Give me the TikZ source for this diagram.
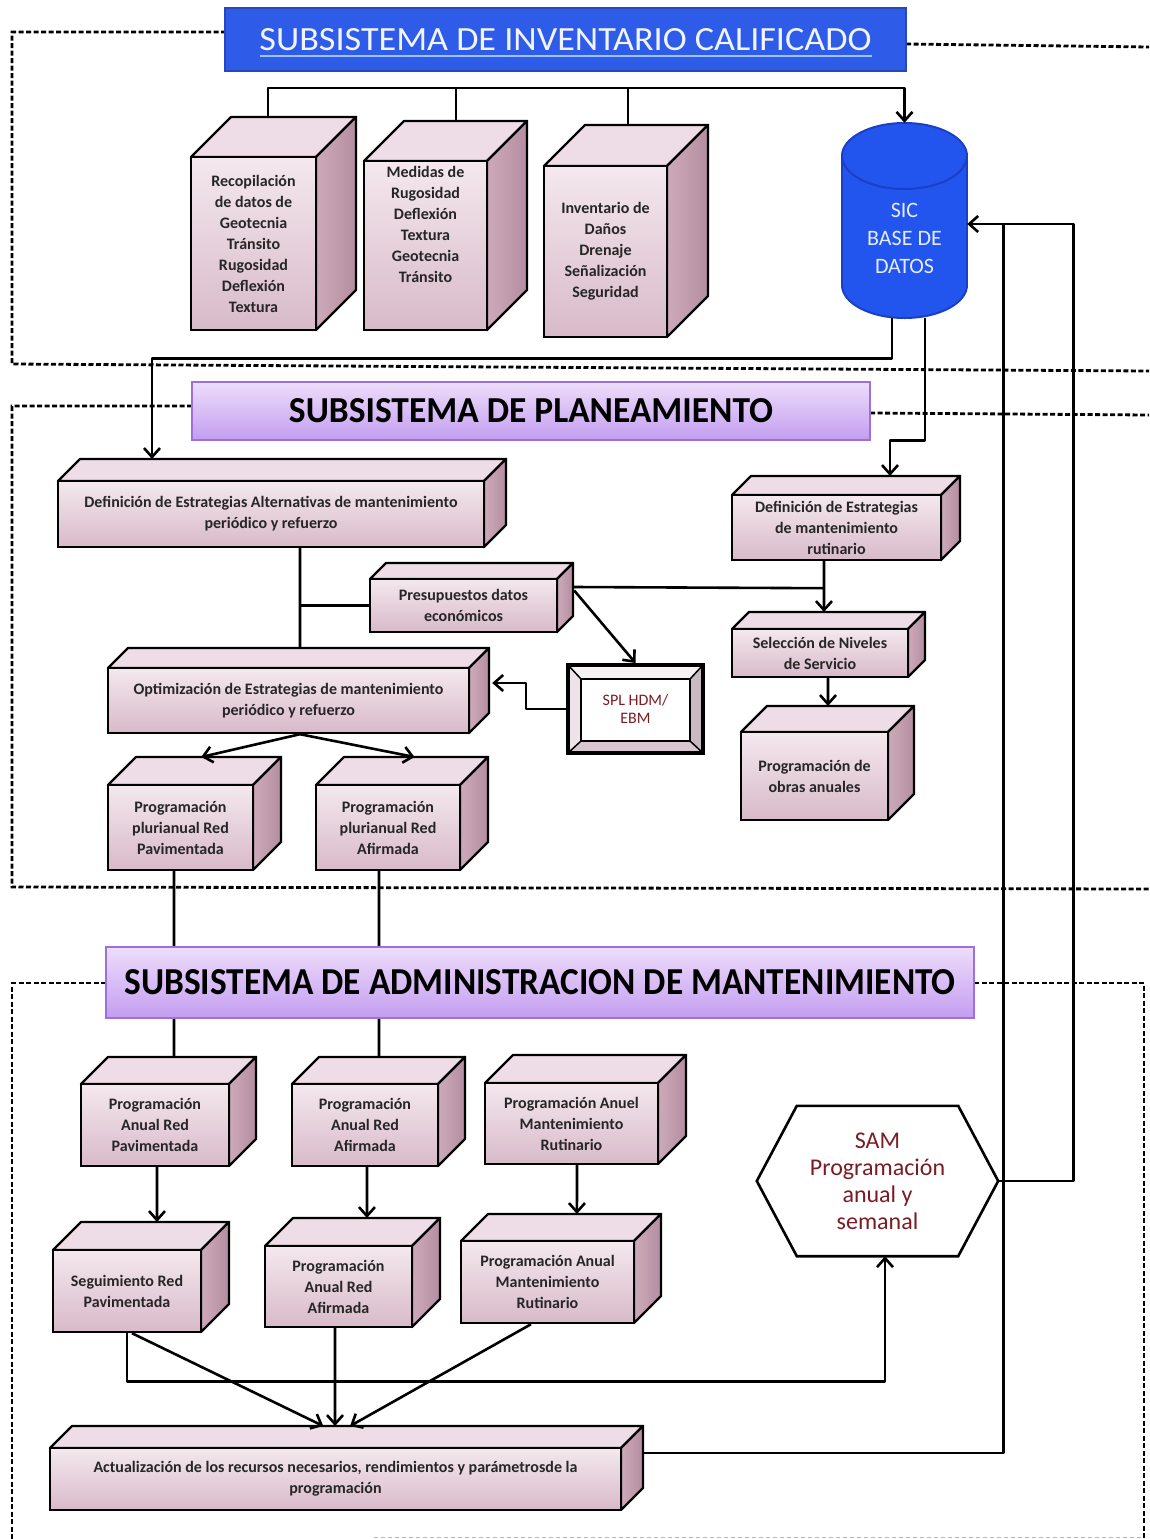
\documentclass[tikz,border=0pt]{standalone}
\usepackage{fontspec}
\usepackage{graphicx}
\setmainfont{Carlito}
\usetikzlibrary{arrows.meta,calc}
\definecolor{cfT}{HTML}{F4E8EE}
\definecolor{cfB}{HTML}{D8BAC8}
\definecolor{cubetopc}{HTML}{EEDDE6}
\definecolor{sideL}{HTML}{CDAABA}
\definecolor{sideR}{HTML}{B48EA0}
\definecolor{txtc}{HTML}{262626}
\definecolor{sicblue}{HTML}{2255EE}
\definecolor{sicedge}{HTML}{1A40C8}
\definecolor{sictext}{HTML}{E4EBFF}
\definecolor{invblue}{HTML}{2E5BE8}
\definecolor{invtext}{HTML}{F0F4FF}
\definecolor{ulblue}{HTML}{9DC3FF}
\definecolor{samred}{HTML}{7A1C24}
\definecolor{planT}{HTML}{EEDDFB}
\definecolor{planB}{HTML}{C39DF0}
\definecolor{planE}{HTML}{9F6FDD}
\definecolor{bevT}{HTML}{F6F2F4}
\definecolor{bevL}{HTML}{ECE4E8}
\definecolor{bevR}{HTML}{C9B9C1}
\definecolor{bevB}{HTML}{D9C6CF}
\tikzset{
  frame/.style={line width=2.8pt, dash pattern=on 5pt off 2.5pt, black},
  conn/.style={line width=2.6pt, black, line join=round},
  arr/.style={conn, -{Straight Barb[length=9pt,width=16pt]}},
  cubeface/.style={draw=black, line width=2.4pt, top color=cfT, bottom color=cfB,
    inner sep=0pt, align=center, font=\fontsize{16}{21}\selectfont\bfseries, text=txtc},
  cubeedge/.style={draw=black, line width=2.4pt, line join=round},
  banner/.style={inner sep=0pt, line width=1.2pt}
}
% name, x1, y1, x2, y2, depth, text
\newcommand{\cubebox}[7]{%
  \path[cubeedge, fill=cubetopc] (#2,#3) -- ++(#6,-#6) -- ({#4+#6},{#3-#6}) -- (#4,#3) -- cycle;
  \path[cubeedge, left color=sideL, right color=sideR] (#4,#3) -- ({#4+#6},{#3-#6}) -- ({#4+#6},{#5-#6}) -- (#4,#5) -- cycle;
  \coordinate (#1-tl) at ({#2+#6},{#3-#6});
  \coordinate (#1-tr) at ({#4+#6},{#3-#6});
  \node[cubeface, minimum width={(#4-#2)*1pt}, minimum height={(#5-#3)*1pt}] (#1) at ({(#2+#4)/2},{(#3+#5)/2}) {#7};
}
\begin{document}
\begin{tikzpicture}[x=1pt,y=-1pt]
\useasboundingbox (0,0) rectangle (1149,1539);
\fill[white] (0,0) rectangle (1149,1539);

% dashed subsystem frames
\draw[frame] (226,32) -- (12,32) -- (12,364) -- (1149,371);
\draw[frame] (906,44) -- (1149,47);
\draw[frame] (192,406) -- (12,406) -- (12,887) -- (1149,889);
\draw[frame] (870,413) -- (1149,415);
\draw[frame] (106,983) -- (12,983) -- (12,1539);
\draw[frame] (974,983) -- (1144,983) -- (1144,1539);
\draw[gray!55, line width=1pt, dash pattern=on 4pt off 3pt] (374,1537) -- (1144,1537);

% banners
\node[banner, fill=invblue, draw=invblue!80!black, minimum width=681pt, minimum height=63pt] (inv) at (565.5,39.5)
  {\color{invtext}\resizebox{612pt}{22pt}{SUBSISTEMA DE INVENTARIO CALIFICADO}};
\draw[ulblue, line width=2.5pt] ([xshift=-306pt,yshift=-16.5pt]inv.center) -- ([xshift=306pt,yshift=-16.5pt]inv.center);
\node[banner, top color=planT, bottom color=planB, draw=planE, minimum width=678pt, minimum height=58pt] (plan) at (531,411)
  {\resizebox{484pt}{24pt}{\bfseries SUBSISTEMA DE PLANEAMIENTO}};

% SIC cylinder
\fill[sicblue] (842,156) rectangle (967,285);
\path[fill=sicblue, draw=sicedge, line width=2pt] (904.5,285) ellipse [x radius=62.5, y radius=33];
\fill[sicblue] (843,156) rectangle (966,285);
\draw[sicedge, line width=2pt] (842,156) -- (842,285) (967,156) -- (967,285);
\path[fill=sicblue, draw=sicedge, line width=2pt] (904.5,156) ellipse [x radius=62.5, y radius=33];
\node[minimum width=125pt, minimum height=195pt, inner sep=0pt] (sic) at (904.5,220.5) {};
\node[font=\fontsize{22}{28}\selectfont, text=sictext, align=center] (sictxt) at ([yshift=-17.5pt]sic.center) {SIC\\BASE DE\\DATOS};

% inventory boxes
\cubebox{invA}{191}{157}{316}{330}{40}{Recopilación\\de datos de\\Geotecnia\\Tránsito\\Rugosidad\\Deflexión\\Textura}
\cubebox{invB}{364}{161}{487}{330}{40}{Medidas de\\Rugosidad\\Deflexión\\Textura\\Geotecnia\\Tránsito\\\mbox{}\\\mbox{}}
\cubebox{invC}{544}{166}{667}{337}{41}{Inventario de\\Daños\\Drenaje\\Señalización\\Seguridad}

% planning boxes
\cubebox{defalt}{58}{481}{484}{547}{22}{Definición de Estrategias Alternativas de mantenimiento\\periódico y refuerzo}
\cubebox{rutin}{732}{495}{941}{560}{19}{Definición de Estrategias\\de mantenimiento\\rutinario}
\cubebox{presup}{370}{579}{557}{632}{16}{Presupuestos datos\\económicos}
\cubebox{optim}{108}{668}{469}{733}{20}{Optimización de Estrategias de mantenimiento\\periódico y refuerzo}
\cubebox{selec}{732}{629}{908}{677}{17}{Selección de Niveles\\de Servicio}
\cubebox{obras}{741}{732}{888}{820}{26}{Programación de\\obras anuales}
\cubebox{plpav}{108}{785}{253}{870}{28}{Programación\\plurianual Red\\Pavimentada}
\cubebox{plafi}{316}{785}{460}{870}{28}{Programación\\plurianual Red\\Afirmada}

% SPL HDM/EBM bevelled frame
\fill[bevT] (568,665) -- (703,665) -- (690,679) -- (581,679) -- cycle;
\fill[bevL] (568,665) -- (581,679) -- (581,741) -- (568,753) -- cycle;
\fill[bevR] (703,665) -- (703,753) -- (690,741) -- (690,679) -- cycle;
\fill[bevB] (568,753) -- (581,741) -- (690,741) -- (703,753) -- cycle;
\draw[line width=1.5pt] (568,665) -- (581,679) (703,665) -- (690,679) (703,753) -- (690,741) (568,753) -- (581,741);
\draw[line width=2.4pt, fill=white] (581,679) rectangle (690,741);
\node[draw, line width=4pt, minimum width=135pt, minimum height=88pt, inner sep=0pt,
  font=\fontsize{16}{18}\selectfont, text=samred, align=center] (spl) at (635.5,709) {SPL HDM/\\EBM};

% admin boxes
\cubebox{papav}{81}{1084}{229}{1166}{27}{Programación\\Anual Red\\Pavimentada}
\cubebox{paafi}{292}{1084}{438}{1166}{27}{Programación\\Anual Red\\Afirmada}
\cubebox{parut}{485}{1083}{658}{1164}{28}{Programación Anuel\\Mantenimiento\\Rutinario}
\cubebox{segpav}{53}{1250}{201}{1332}{28}{Seguimiento Red\\Pavimentada}
\cubebox{paafiB}{265}{1246}{412}{1327}{28}{Programación\\Anual Red\\Afirmada}
\cubebox{parutB}{461}{1241}{634}{1323}{27}{Programación Anual\\Mantenimiento\\Rutinario}
\cubebox{actua}{50}{1448}{621}{1510}{22}{Actualización de los recursos necesarios, rendimientos y parámetrosde la\\programación}

% SAM hexagon
\node[minimum width=241pt, minimum height=150pt, inner sep=0pt, align=center,
  font=\fontsize{24}{27}\selectfont, text=samred] (sam) at (877.5,1181) {SAM\\Programación\\anual y\\semanal};
\draw[line width=2.6pt] (sam.west) -- ([xshift=40pt]sam.north west) -- ([xshift=-40pt]sam.north east) -- (sam.east)
  -- ([xshift=-40pt]sam.south east) -- ([xshift=40pt]sam.south west) -- cycle;

% lines passing behind the admin banner
\draw[conn] ([xshift=-6.5pt]plpav.south) -- ($(papav-tl)!0.446!(papav-tr)$);
\draw[conn] ([xshift=-9pt]plafi.south) -- ($(paafi-tl)!0.411!(paafi-tr)$);
\node[banner, top color=planT, bottom color=planB, draw=planE, minimum width=868pt, minimum height=71pt] (admin) at (540,982.5)
  {\resizebox{831pt}{25pt}{\bfseries SUBSISTEMA DE ADMINISTRACION DE MANTENIMIENTO}};

% inventory connectors
\draw[arr] ($(invA-tl)!0.296!(invA-tr)$) |- ([yshift=35pt]sic.north) -- (sic.north);
\draw[conn] ($(invB-tl)!0.423!(invB-tr)$) -- ++(0,-33);
\draw[conn] ($(invC-tl)!0.35!(invC-tr)$) -- ++(0,-37);
\draw[arr] ([xshift=-12.5pt]sic.south) -- ++(0,40) -| ($(defalt-tl)!0.169!(defalt-tr)$);
\draw[arr] ([xshift=20.5pt]sic.south) -- ++(0,122) -| ($(rutin-tl)!0.665!(rutin-tr)$);

% planning connectors
\draw[conn] ([xshift=29pt]defalt.south) -- ($(optim-tl)!0.4765!(optim-tr)$);
\draw[conn] (presup.west) -- ++(-70,0);
\draw[arr] ([xshift=-12.5pt]rutin.south) -- ($(selec-tl)!0.426!(selec-tr)$);
\draw[conn] ([xshift=16pt,yshift=18.5pt]presup.east) -- ([xshift=-12.5pt,yshift=-27pt]rutin.south);
\draw[arr] ([xshift=16pt,yshift=15pt]presup.east) -- (spl.north);
\draw[arr] (spl.west) -- ++(-40,0) |- ([xshift=22pt,yshift=17.5pt]optim.east);
\draw[arr] ([xshift=11.5pt]optim.south) -- ($(plpav-tl)!0.45!(plpav-tr)$);
\draw[arr] ([xshift=11.5pt]optim.south) -- ($(plafi-tl)!0.49!(plafi-tr)$);
\draw[arr] ([xshift=8pt]selec.south) -- ($(obras-tl)!0.415!(obras-tr)$);

% admin connectors
\draw[arr] ([xshift=2pt]papav.south) -- ($(segpav-tl)!0.5135!(segpav-tr)$);
\draw[arr] ([xshift=2pt]paafi.south) -- ($(paafiB-tl)!0.503!(paafiB-tr)$);
\draw[arr] ([xshift=5.5pt]parut.south) -- ($(parutB-tl)!0.514!(parutB-tr)$);
\draw[arr] (segpav.south) -- ++(0,48) -| ([xshift=7.5pt]sam.south);
\draw[arr] ([xshift=5pt]segpav.south) -- ($(actua-tl)!0.44!(actua-tr)$);
\draw[arr] ([xshift=-3.5pt]paafiB.south) -- ($(actua-tl)!0.4606!(actua-tr)$);
\draw[arr] ([xshift=-16.5pt]parutB.south) -- ($(actua-tl)!0.487!(actua-tr)$);
\draw[conn] ([xshift=22pt,yshift=26pt]actua.east) -| ([xshift=36pt,yshift=-3.5pt]sic.east);
\draw[arr] (sam.east) -- ++(75,0) |- ([yshift=-3.5pt]sic.east);
\end{tikzpicture}
\end{document}
